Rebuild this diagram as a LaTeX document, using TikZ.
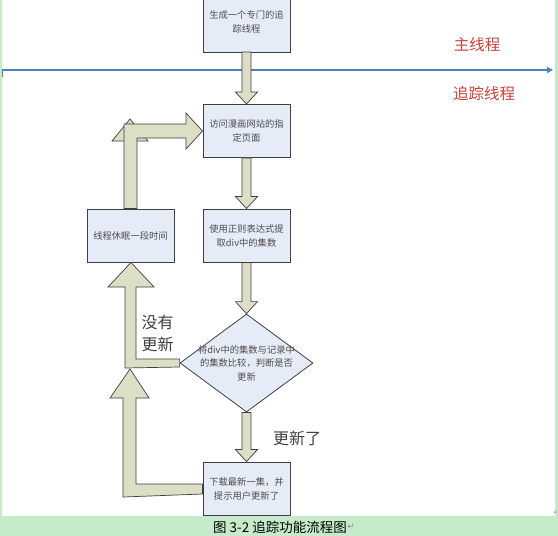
\documentclass[tikz,border=0pt]{standalone}
\usepackage{fontspec}
\setmainfont{Noto Sans CJK SC}
\newfontfamily\dejavu{DejaVu Sans}
\definecolor{bg}{HTML}{C6EBCA}
\definecolor{boxfill}{HTML}{E6ECF7}
\definecolor{edge}{HTML}{3F3F3F}
\definecolor{arrfill}{HTML}{DCDFC6}
\definecolor{axis}{HTML}{4F81BD}
\definecolor{redlbl}{HTML}{D0403C}
\usetikzlibrary{shapes.geometric,arrows.meta,calc}
\begin{document}
\begin{tikzpicture}[x=1pt,y=-1pt,
  procbox/.style={draw=edge,line width=0.9pt,fill=boxfill,minimum width=87pt,minimum height=53pt,inner sep=0pt,font=\fontsize{9.3}{14}\selectfont,text=black!70,align=center},
  blockarrow/.style={draw=edge,line width=0.7pt,fill=arrfill,line join=miter},
  bigl/.style={font=\fontsize{16}{22}\selectfont,text=black!75,align=center},
  redl/.style={font=\fontsize{15.5}{20}\selectfont,text=redlbl}]
\useasboundingbox (0,0) rectangle (558,536);
\fill[bg] (0,0) rectangle (558,536);
\fill[white] (1.5,0) rectangle (554.5,516);
% top box (clipped)
\begin{scope}
\clip (0,0) rectangle (558,516);
\node[procbox,minimum height=60pt] (b1) at (246.5,22) {生成一个专门的追\\踪线程};
\end{scope}
\coordinate (b1s) at (246.5,52);
% main-thread / tracking-thread divider
\coordinate (axl) at (2.5,77);
\coordinate (axc) at (2.5,70);
\coordinate (axr) at (553,70);
\draw[axis,line width=1.1pt,-{Triangle[length=6pt,width=6pt]}] (axl) -- (axc) -- (axr);
\node[redl] (lmain) at (477,45) {主线程};
\node[redl] (ltrack) at (484,94) {追踪线程};
% boxes
\node[procbox] (b2) at (246.5,131) {访问漫画网站的指\\定页面};
\node[procbox] (b3) at (246.5,235.5) {使用正则表达式提\\取div中的集数};
\node[procbox] (b4) at (130.5,235.5) {线程休眠一段时间};
\node[draw=edge,line width=0.8pt,fill=boxfill,diamond,minimum width=133pt,minimum height=98pt,inner sep=0pt] (d) at (246.5,363) {};
\node[font=\fontsize{9.3}{13.5}\selectfont,text=black!70,align=center] (dt) at (d.center) {将div中的集数与记录中\\的集数比较，判断是否\\更新};
\node[procbox] (b5) at (246.5,488.5) {下载最新一集，并\\提示用户更新了};
% vertical block arrows
\foreach \top/\tip in {b1s/b2.north, b2.south/b3.north, b3.south/d.north, d.south/b5.north}{
  \path (\top) coordinate (t0) (\tip) coordinate (t1);
  \draw[blockarrow] ($(t0)+(-4.5,0)$) -- ($(t1)+(-4.5,-12)$) -- ($(t1)+(-11,-12)$) -- (t1) -- ($(t1)+(11,-12)$) -- ($(t1)+(4.5,-12)$) -- ($(t0)+(4.5,0)$) -- cycle;
}
% loop: sleep -> visit page
\fill[arrfill,draw=edge,line width=0.7pt] (112,141) -- (130,119) -- (148,141) -- cycle;
\draw[blockarrow] (b4.north -| 124,0) -- (124,124) -- (186,124) -- (186,113) -- (b2.west |- 0,131) -- (186,149) -- (186,138) -- (137,138) -- (b4.north -| 137,0) -- cycle;
% no update: diamond -> sleep
\draw[blockarrow] (d.west |- 0,359) -- (136,359) -- (136,287) -- (154,287) -- (b4.south -| 131,0) -- (108,287) -- (125,287) -- (125,368) -- (d.west |- 0,367) -- cycle;
% download -> back up
\coordinate (uptip) at (130,369);
\draw[blockarrow] (b5.west |- 0,484) -- (136,484) -- (136,398) -- (149,398) -- (uptip) -- (110,398) -- (123,398) -- (123,497) -- (b5.west |- 0,494) -- cycle;
% labels
\node[bigl] (lno) at (157.5,333) {没有\\更新};
\node[bigl] (lyes) at (297,438) {更新了};
% caption
\node[font=\fontsize{13.5}{16}\selectfont,anchor=west,inner sep=0pt] (cap) at (213,527) {图 3-2 追踪功能流程图};
\node[font=\dejavu\fontsize{9}{10}\selectfont,text=black!45,anchor=west,inner sep=0pt] (ret) at (cap.east) {↵};
\node[font=\dejavu\fontsize{6}{8}\selectfont,text=black!40,inner sep=0pt] (ret2) at (556,513) {↵};
\end{tikzpicture}
\end{document}
